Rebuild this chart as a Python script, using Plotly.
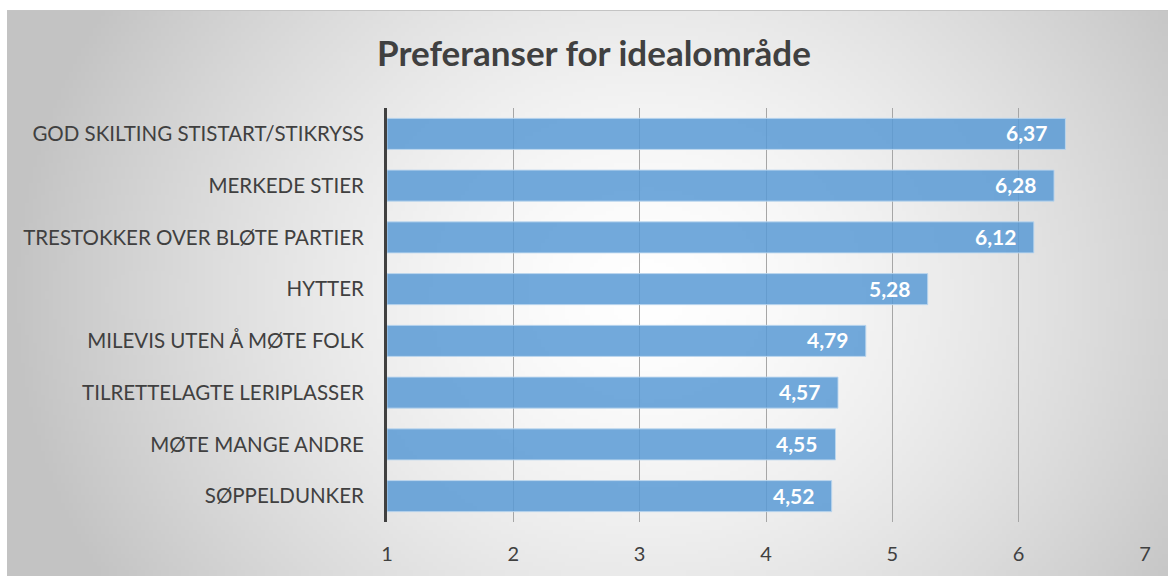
import base64
import struct
import zlib

import numpy as np
import plotly.graph_objects as go

categories = [
    "GOD SKILTING STISTART/STIKRYSS",
    "MERKEDE STIER",
    "TRESTOKKER OVER BLØTE PARTIER",
    "HYTTER",
    "MILEVIS UTEN Å MØTE FOLK",
    "TILRETTELAGTE LERIPLASSER",
    "MØTE MANGE ANDRE",
    "SØPPELDUNKER",
]
values = [6.37, 6.28, 6.12, 5.28, 4.79, 4.57, 4.55, 4.52]
x_ticks = [1, 2, 3, 4, 5, 6, 7]
title_text = "Preferanser for idealområde"

W, H = 1168, 576
L, R, T, B = 387, 23, 108, 54
PW, PH = W - L - R, H - T - B


def gradient_png(w, h):
    # radial grey gradient background (chart area fill)
    yy, xx = np.mgrid[0:h, 0:w].astype(float)
    cx, cy = 0.55 * w, 0.5 * h
    r = np.sqrt(((xx - cx) / (0.55 * w)) ** 2 + ((yy - cy) / (1.0 * h)) ** 2)
    r = np.clip(r, 0, 1)
    v = (255 - 60 * r ** 1.5).astype(np.uint8)
    raw = b"".join(b"\x00" + bytes(row) for row in v)

    def chunk(tag, data):
        c = struct.pack(">I", len(data)) + tag + data
        return c + struct.pack(">I", zlib.crc32(tag + data) & 0xFFFFFFFF)

    png = b"\x89PNG\r\n\x1a\n"
    png += chunk(b"IHDR", struct.pack(">IIBBBBB", w, h, 8, 0, 0, 0, 0))
    png += chunk(b"IDAT", zlib.compress(raw, 9))
    png += chunk(b"IEND", b"")
    return "data:image/png;base64," + base64.b64encode(png).decode()


def px2paper_x(px):
    return (px - L) / PW


def px2paper_y(py):
    return (H - B - py) / PH


fig = go.Figure(
    go.Bar(
        y=categories,
        x=[v - 1 for v in values],
        base=1,
        orientation="h",
        marker=dict(color="rgba(91,155,213,0.86)", line=dict(color="rgba(189,215,238,0.9)", width=1)),
        hoverinfo="skip",
    )
)

label_annotations = [
    dict(
        x=v,
        y=c,
        xref="x",
        yref="y",
        text=f"{v:.2f}".replace(".", ","),
        showarrow=False,
        xanchor="right",
        yanchor="middle",
        xshift=-16,
        yshift=1,
        font=dict(family="Lato", size=21, color="white", weight="bold"),
    )
    for c, v in zip(categories, values)
]

fig.update_layout(
    width=W,
    height=H,
    margin=dict(l=L, r=R, t=T, b=B, pad=0),
    paper_bgcolor="white",
    plot_bgcolor="rgba(0,0,0,0)",
    bargap=0.4,
    showlegend=False,
    font=dict(family="Lato", color="#404040"),
    title=dict(
        text=title_text,
        x=594 / W,
        xref="container",
        xanchor="center",
        y=1 - 54 / H,
        yref="container",
        yanchor="middle",
        font=dict(family="Lato", size=35, color="#404040", weight="bold"),
    ),
    xaxis=dict(
        range=[1, 7],
        tickvals=x_ticks,
        ticktext=[str(t) for t in x_ticks],
        showgrid=True,
        gridcolor="#a6a6a6",
        gridwidth=1,
        zeroline=False,
        showline=False,
        ticks="",
        tickfont=dict(family="Lato", size=20, color="#404040"),
        ticklabelstandoff=18,
    ),
    yaxis=dict(
        autorange="reversed",
        showgrid=False,
        showline=True,
        linecolor="#404040",
        linewidth=3,
        ticks="",
        tickfont=dict(family="Lato", size=20.5, color="#404040"),
        ticklabelstandoff=16,
    ),
    annotations=label_annotations,
    images=[
        dict(
            source=gradient_png(290, 142),
            xref="paper",
            yref="paper",
            x=px2paper_x(7),
            y=px2paper_y(10),
            sizex=(W - 7) / PW,
            sizey=(H - 10) / PH,
            xanchor="left",
            yanchor="top",
            sizing="stretch",
            layer="below",
        )
    ],
    shapes=[
        dict(
            type="line",
            xref="paper",
            yref="paper",
            x0=px2paper_x(7),
            x1=px2paper_x(W),
            y0=px2paper_y(10.5),
            y1=px2paper_y(10.5),
            line=dict(color="#c4c4c4", width=1),
            layer="below",
        )
    ],
)

fig.write_html(
    "out.html",
    config={"displayModeBar": False},
    post_script="document.body.style.margin='0';",
)
